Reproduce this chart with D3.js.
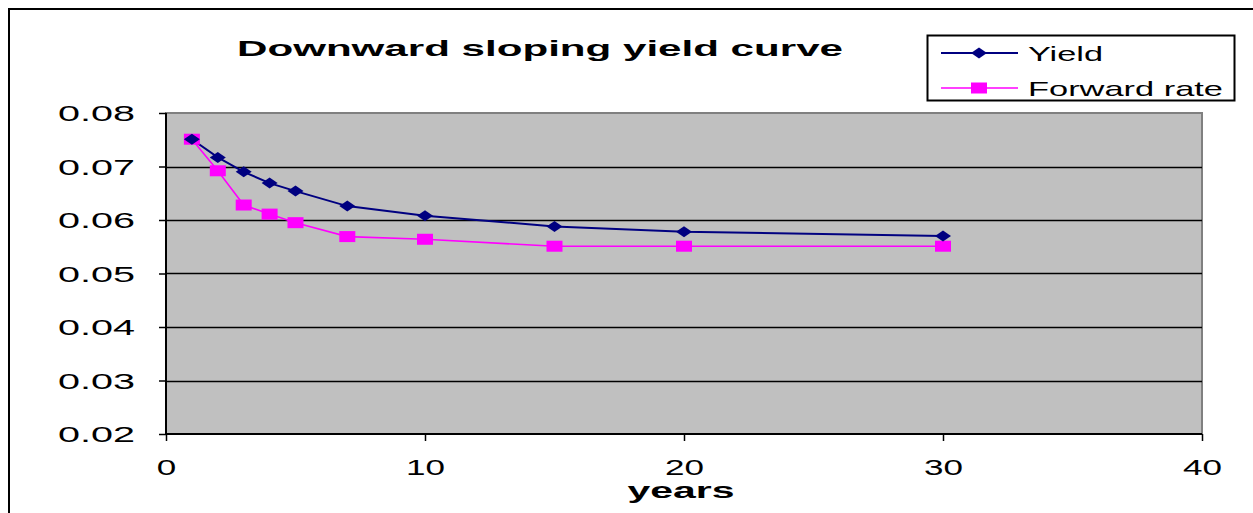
<!DOCTYPE html>
<html>
<head>
<meta charset="utf-8">
<script src="https://cdn.jsdelivr.net/npm/d3@7"></script>
<style>
  html, body { margin: 0; padding: 0; background: #fff; }
  svg { display: block; font-family: "Liberation Sans", Arial, sans-serif; }
</style>
</head>
<body>
<svg id="chart" width="1253" height="513"></svg>
<script>
// Maturities in years and the two rate series
const years = [1, 2, 3, 4, 5, 7, 10, 15, 20, 30];
const yieldRates = [0.0751, 0.0717, 0.0690, 0.0669, 0.0654, 0.0626, 0.0608, 0.0588, 0.0578, 0.0570];
const forwardRates = [0.0751, 0.0692, 0.0628, 0.0611, 0.0595, 0.0569, 0.0564, 0.0551, 0.0551, 0.0551];

const xTicks = [0, 10, 20, 30, 40];
const yTicks = [0.02, 0.03, 0.04, 0.05, 0.06, 0.07, 0.08];
const seriesNames = ["Yield", "Forward rate"];
const titleText = "Downward sloping yield curve";
const xTitle = "years";

const svg = d3.select("#chart");
const plot = { left: 166, top: 113, right: 1202, bottom: 434 };

const x = d3.scaleLinear().domain([0, 40]).range([plot.left, plot.right]);
const y = d3.scaleLinear().domain([0.02, 0.08]).range([plot.bottom, plot.top]);

// Wide, horizontally stretched lettering
function wideText(sel, width) {
  sel.attr("textLength", width).attr("lengthAdjust", "spacingAndGlyphs");
  return sel;
}

// Outer frame (left and top edges)
svg.append("path")
  .attr("d", "M9,513 V9 H1253")
  .attr("fill", "none").attr("stroke", "#000").attr("stroke-width", 2);

// Plot area
svg.append("rect")
  .attr("x", plot.left).attr("y", plot.top)
  .attr("width", plot.right - plot.left).attr("height", plot.bottom - plot.top)
  .attr("fill", "#c0c0c0").attr("stroke", "#808080").attr("stroke-width", 2);

// Horizontal gridlines
svg.append("g").selectAll("line")
  .data(yTicks.filter(d => d > 0.02 && d < 0.08))
  .join("line")
  .attr("x1", plot.left).attr("x2", plot.right)
  .attr("y1", d => Math.round(y(d)) + 0.5).attr("y2", d => Math.round(y(d)) + 0.5)
  .attr("stroke", "#000").attr("stroke-width", 1.5);

// Y axis
const yAxis = svg.append("g")
  .attr("transform", `translate(${plot.left},0)`)
  .call(d3.axisLeft(y).tickValues(yTicks).tickFormat(d3.format(".2f")).tickSize(7).tickPadding(24));
yAxis.select(".domain").attr("stroke", "#000").attr("stroke-width", 2).attr("d", `M0,${plot.top}V${plot.bottom}`);
yAxis.selectAll(".tick line").attr("stroke", "#000").attr("stroke-width", 1.5);
yAxis.selectAll(".tick text")
  .attr("font-size", 22).attr("fill", "#000").attr("dy", "0.36em")
  .attr("font-family", "Liberation Sans, Arial, sans-serif")
  .each(function () { wideText(d3.select(this), 77); });

// X axis
const xAxis = svg.append("g")
  .attr("transform", `translate(0,${plot.bottom})`)
  .call(d3.axisBottom(x).tickValues(xTicks).tickFormat(d3.format("d")).tickSize(7).tickPadding(18));
xAxis.select(".domain").attr("stroke", "#000").attr("stroke-width", 2).attr("d", `M${plot.left},0H${plot.right}`);
xAxis.selectAll(".tick line").attr("stroke", "#000").attr("stroke-width", 1.5);
xAxis.selectAll(".tick text")
  .attr("font-size", 22).attr("fill", "#000").attr("dy", "0.71em")
  .attr("font-family", "Liberation Sans, Arial, sans-serif")
  .each(function (d) { wideText(d3.select(this), String(d).length * 19.5); });

// Title
wideText(svg.append("text")
  .attr("x", 540).attr("y", 56).attr("text-anchor", "middle")
  .attr("font-size", 22).attr("font-weight", "bold")
  .text(titleText), 606);

// X axis title
wideText(svg.append("text")
  .attr("x", 681).attr("y", 498).attr("text-anchor", "middle")
  .attr("font-size", 22).attr("font-weight", "bold")
  .text(xTitle), 107);

// Series
const line = d3.line().x(d => x(d[0])).y(d => y(d[1]));
const yieldPts = years.map((t, i) => [t, yieldRates[i]]);
const fwdPts = years.map((t, i) => [t, forwardRates[i]]);

const diamond = (cx, cy) => `M${cx - 8},${cy}L${cx},${cy - 5.5}L${cx + 8},${cy}L${cx},${cy + 5.5}Z`;

svg.append("path").datum(fwdPts).attr("d", line)
  .attr("fill", "none").attr("stroke", "#ff00ff").attr("stroke-width", 1.6);
svg.append("path").datum(yieldPts).attr("d", line)
  .attr("fill", "none").attr("stroke", "#000080").attr("stroke-width", 2);

svg.append("g").selectAll("rect").data(fwdPts).join("rect")
  .attr("x", d => x(d[0]) - 8).attr("y", d => y(d[1]) - 5.5)
  .attr("width", 16).attr("height", 11).attr("fill", "#ff00ff");
svg.append("g").selectAll("path").data(yieldPts).join("path")
  .attr("d", d => diamond(x(d[0]), y(d[1]))).attr("fill", "#000080");

// Legend
const lg = svg.append("g");
lg.append("rect").attr("x", 927.5).attr("y", 35.5).attr("width", 307).attr("height", 65)
  .attr("fill", "#fff").attr("stroke", "#000").attr("stroke-width", 2);
const legendRows = [
  { name: seriesNames[0], color: "#000080", cy: 53, w: 75, width: 2 },
  { name: seriesNames[1], color: "#ff00ff", cy: 88, w: 195, width: 1.6 }
];
legendRows.forEach((r, i) => {
  lg.append("line").attr("x1", 941).attr("x2", 1018).attr("y1", r.cy).attr("y2", r.cy)
    .attr("stroke", r.color).attr("stroke-width", r.width);
  if (i === 0) {
    lg.append("path").attr("d", diamond(979, r.cy)).attr("fill", r.color);
  } else {
    lg.append("rect").attr("x", 971).attr("y", r.cy - 5.5).attr("width", 16).attr("height", 11).attr("fill", r.color);
  }
  wideText(lg.append("text").attr("x", 1028).attr("y", r.cy + 7.5)
    .attr("font-size", 21).attr("fill", "#000").text(r.name), r.w);
});
</script>
</body>
</html>
